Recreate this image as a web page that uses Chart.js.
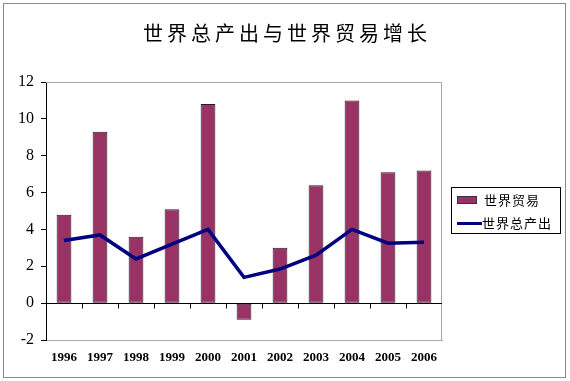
<!DOCTYPE html>
<html><head><meta charset="utf-8">
<script src="https://cdn.jsdelivr.net/npm/chart.js@4"></script>
<style>
html,body{margin:0;padding:0;background:#fff;}
#wrap{position:relative;width:570px;height:381px;}
#frame{position:absolute;left:3px;top:3px;width:563px;height:375px;border:1px solid #8a8a8a;box-sizing:border-box;}
#title{position:absolute;left:0;top:19px;width:570px;text-align:center;font-family:"Noto Sans CJK SC";font-size:20px;letter-spacing:4px;line-height:28px;color:#000;padding-left:4px;box-sizing:border-box;}
#legend{position:absolute;left:451px;top:187px;width:110px;height:47px;border:1px solid #000;box-sizing:border-box;font-family:"Noto Sans CJK SC";font-size:13px;color:#000;}
.row{position:absolute;left:5px;height:20px;line-height:20px;}
.sw{position:absolute;left:0;top:6px;width:20px;height:8px;background:#993366;border:1px solid #333;box-sizing:border-box;}
.ln{position:absolute;left:0;top:8.5px;width:25px;height:3px;background:#000080;}
.tx{position:absolute;left:27px;top:0;white-space:nowrap;letter-spacing:1px;}
canvas{position:absolute;left:0;top:0;}
</style></head>
<body><div id="wrap">
<canvas id="c" width="570" height="381"></canvas>
<div id="frame"></div>
<div id="title">世界总产出与世界贸易增长</div>
<div id="legend">
 <div class="row" style="top:2px"><div class="sw"></div><div class="tx">世界贸易</div></div>
 <div class="row" style="top:25px"><div class="ln"></div><div class="tx" style="left:25px">世界总产出</div></div>
</div>
</div>
<script>
const years = ['1996','1997','1998','1999','2000','2001','2002','2003','2004','2005','2006'];
const worldTrade = [4.8, 9.3, 3.6, 5.1, 10.8, -0.9, 3.0, 6.4, 11.0, 7.1, 7.2];
const worldOutput = [3.4, 3.7, 2.4, 3.2, 4.0, 1.4, 1.85, 2.6, 4.0, 3.25, 3.3];
const yTicks = [-2, 0, 2, 4, 6, 8, 10, 12];

const framePlugin = {
  id: 'framePlugin',
  beforeDatasetsDraw(chart) {
    const {ctx, chartArea: a, scales} = chart;
    ctx.save();
    ctx.strokeStyle = '#a8a8a8';
    ctx.lineWidth = 1;
    ctx.beginPath();
    ctx.moveTo(a.left, a.top + 0.5);
    ctx.lineTo(a.right - 0.5, a.top + 0.5);
    ctx.lineTo(a.right - 0.5, a.bottom);
    ctx.stroke();
    const y0 = Math.round(scales.y.getPixelForValue(0)) + 0.5;
    ctx.strokeStyle = '#000';
    ctx.beginPath();
    ctx.moveTo(a.left, y0);
    ctx.lineTo(a.right, y0);
    const n = years.length;
    const w = (a.right - a.left) / n;
    for (let i = 1; i < n; i++) {
      const x = Math.round(a.left + i * w) + 0.5;
      ctx.moveTo(x, y0);
      ctx.lineTo(x, y0 + 5);
    }
    ctx.stroke();
    ctx.restore();
  }
};

new Chart(document.getElementById('c'), {
  data: {
    labels: years,
    datasets: [
      {type: 'line', label: '世界总产出', data: worldOutput, borderColor: '#000080', borderWidth: 3.5,
       pointRadius: 0, tension: 0, fill: false, order: 0},
      {type: 'bar', label: '世界贸易', data: worldTrade, backgroundColor: '#993366',
       borderColor: '#2b1a22', borderWidth: 1, borderSkipped: false, barPercentage: 0.41, categoryPercentage: 1, order: 1}
    ]
  },
  options: {
    responsive: false,
    animation: false,
    layout: {padding: {left: 0, right: 128, top: 82, bottom: 0}},
    plugins: {legend: {display: false}, title: {display: false}, tooltip: {enabled: false}},
    scales: {
      x: {
        grid: {display: false, drawTicks: false},
        border: {display: true, color: '#a8a8a8', width: 1},
        ticks: {font: {family: 'Liberation Serif', size: 13, weight: 'bold'}, color: '#000', padding: 10, maxRotation: 0},
        afterFit(s) { s.height = 41; }
      },
      y: {
        min: -2, max: 12,
        afterBuildTicks(s) { s.ticks = yTicks.map(v => ({value: v})); },
        grid: {drawOnChartArea: false, drawTicks: true, tickLength: 5, color: '#000'},
        border: {display: true, color: '#000', width: 1},
        ticks: {font: {family: 'Liberation Serif', size: 16}, color: '#000', padding: 7},
        afterFit(s) { s.width = 46; }
      }
    }
  },
  plugins: [framePlugin]
});
</script>
</body></html>
